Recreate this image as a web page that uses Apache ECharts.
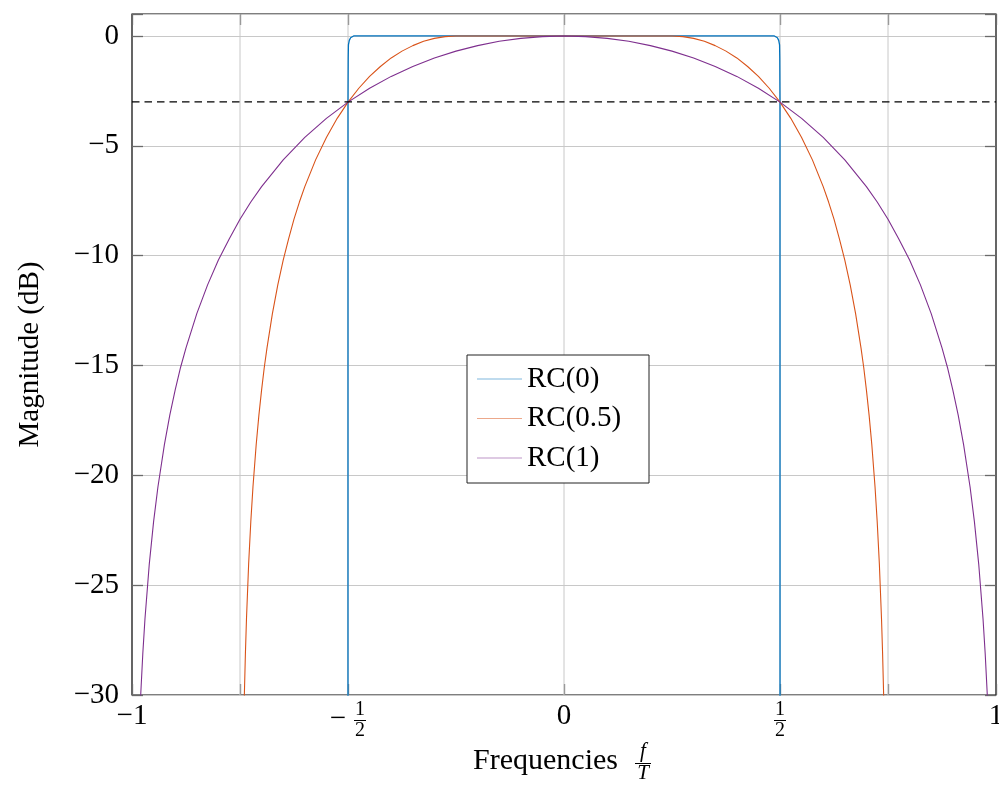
<!DOCTYPE html>
<html>
<head>
<meta charset="utf-8">
<script src="https://cdn.jsdelivr.net/npm/echarts@6/dist/echarts.min.js"></script>
<style>
html,body{margin:0;padding:0;background:#fff;}
#c{width:999px;height:806px;}
</style>
</head>
<body>
<div id="c"></div>
<script>
// ---- data ----
var seriesNames = ['RC(0)', 'RC(0.5)', 'RC(1)'];

var rc0Freq = [-0.5005, -0.5, -0.4995, -0.499, -0.497, -0.494, -0.49, -0.487, 0.487, 0.49, 0.494, 0.497, 0.499, 0.4995, 0.5, 0.5005];
var rc0Mag  = [-200, -3.0, -1.0, -0.4, -0.2, -0.08, -0.02, 0, 0, -0.02, -0.08, -0.2, -0.4, -1.0, -3.0, -200];

var rc05Freq = [-0.745,-0.7425,-0.74,-0.7375,-0.735,-0.73,-0.725,-0.72,-0.7125,-0.70625,-0.7,-0.69375,-0.6875,-0.675,-0.6625,-0.65,-0.6375,-0.625,-0.6125,-0.6,-0.575,-0.55,-0.525,-0.5,-0.475,-0.45,-0.425,-0.4,-0.375,-0.35,-0.325,-0.3,-0.275,-0.25,
                0.25,0.275,0.3,0.325,0.35,0.375,0.4,0.425,0.45,0.475,0.5,0.525,0.55,0.575,0.6,0.6125,0.625,0.6375,0.65,0.6625,0.675,0.6875,0.69375,0.7,0.70625,0.7125,0.72,0.725,0.73,0.735,0.7375,0.74,0.7425,0.745];
var rc05Mag  = [-36.08,-32.56,-30.06,-28.12,-26.54,-24.04,-22.11,-20.53,-18.60,-17.26,-16.11,-15.08,-14.20,-12.64,-11.33,-10.20,-9.24,-8.34,-7.56,-6.86,-5.64,-4.62,-3.75,-3.01,-2.38,-1.84,-1.39,-1.00,-0.69,-0.44,-0.24,-0.11,-0.03,0,
                0,-0.03,-0.11,-0.24,-0.44,-0.69,-1.00,-1.39,-1.84,-2.38,-3.01,-3.75,-4.62,-5.64,-6.86,-7.56,-8.34,-9.24,-10.20,-11.33,-12.64,-14.20,-15.08,-16.11,-17.26,-18.60,-20.53,-22.11,-24.04,-26.54,-28.12,-30.06,-32.56,-36.08];

var rc1Freq = [-0.99,-0.985,-0.98,-0.975,-0.97,-0.96,-0.95,-0.94,-0.925,-0.9125,-0.9,-0.8875,-0.875,-0.85,-0.825,-0.8,-0.775,-0.75,-0.725,-0.7,-0.65,-0.6,-0.55,-0.5,-0.45,-0.4,-0.35,-0.3,-0.25,-0.2,-0.15,-0.1,-0.05,0,
               0.05,0.1,0.15,0.2,0.25,0.3,0.35,0.4,0.45,0.5,0.55,0.6,0.65,0.7,0.725,0.75,0.775,0.8,0.825,0.85,0.875,0.8875,0.9,0.9125,0.925,0.94,0.95,0.96,0.97,0.975,0.98,0.985,0.99];
var rc1Mag  = [-36.08,-32.56,-30.06,-28.12,-26.54,-24.04,-22.11,-20.53,-18.60,-17.26,-16.11,-15.08,-14.20,-12.64,-11.33,-10.20,-9.24,-8.34,-7.56,-6.86,-5.64,-4.62,-3.75,-3.01,-2.38,-1.84,-1.39,-1.00,-0.69,-0.44,-0.24,-0.11,-0.03,0,
               -0.03,-0.11,-0.24,-0.44,-0.69,-1.00,-1.39,-1.84,-2.38,-3.01,-3.75,-4.62,-5.64,-6.86,-7.56,-8.34,-9.24,-10.20,-11.33,-12.64,-14.20,-15.08,-16.11,-17.26,-18.60,-20.53,-22.11,-24.04,-26.54,-28.12,-30.06,-32.56,-36.08];

var cutoffLevel = -3;            // dashed reference line (dB)
var cutoffFreq = [-1, 1];
var xGridValues = [-0.75, -0.5, 0, 0.5, 0.75];
var xTickValues = [-1, -0.75, -0.5, 0, 0.5, 0.75, 1];
var xLabelValues = [-1, 0, 1];
var xFracLabels = [{v: -0.5, neg: true}, {v: 0.5, neg: false}];
var yMin = -30, yMax = 1, yStep = 5;

// ---- helpers ----
function zip(xs, ys) { var o = []; for (var i = 0; i < xs.length; i++) o.push([xs[i], ys[i]]); return o; }
var FONT = 'Liberation Serif';
var MINUS = '\u2212';
function fmtNum(v) { return v < 0 ? MINUS + (-v) : String(v); }

var colors = ['#0072BD', '#D95319', '#7E2F8E'];
var chart = echarts.init(document.getElementById('c'), null, {renderer: 'canvas'});

var tickStyle = {show: true, inside: true, length: 11, lineStyle: {color: '#6a6a6a', width: 1.3}};
var noLine = {show: false, onZero: false};

var gridSeries = xGridValues.map(function (v) {
  return {type: 'line', name: '_g' + v, data: [[v, yMin], [v, yMax]], showSymbol: false, symbol: 'none', silent: true,
          lineStyle: {color: '#c8c8c8', width: 1}, z: 1};
});

var option = {
  animation: false,
  backgroundColor: '#fff',
  grid: {left: 132, right: 3, top: 14, bottom: 111, show: true, borderColor: '#000', borderWidth: 1.2,
         backgroundColor: 'transparent', containLabel: false, outerBoundsMode: 'none'},
  legend: {
    data: seriesNames,
    orient: 'vertical',
    left: 467, top: 355,
    padding: [9, 14, 10, 10],
    itemWidth: 45, itemHeight: 14, itemGap: 9.5,
    backgroundColor: '#fff',
    borderColor: '#222', borderWidth: 1, borderRadius: 0,
    textStyle: {fontFamily: FONT, fontSize: 29, color: '#000', lineHeight: 30, width: 108},
    icon: 'path://M0,10 L100,10 L100,11.3 L0,11.3 Z',
    itemStyle: {borderWidth: 0}
  },
  xAxis: [{
    type: 'value', min: -1, max: 1, interval: 0.25, position: 'bottom',
    axisLine: noLine,
    axisTick: Object.assign({customValues: xTickValues}, tickStyle),
    splitLine: {show: false},
    axisLabel: {
      customValues: xLabelValues, margin: 7,
      fontFamily: FONT, fontSize: 29, color: '#000',
      formatter: function (v) { return (v === -1 || v === 0 || v === 1) ? fmtNum(v) : ''; }
    }
  }, {
    type: 'value', min: -1, max: 1, interval: 0.25, position: 'top',
    axisLine: noLine,
    axisTick: Object.assign({customValues: xTickValues}, tickStyle),
    splitLine: {show: false},
    axisLabel: {show: false}
  }],
  yAxis: [{
    type: 'value', min: yMin, max: yMax, interval: yStep, position: 'left',
    name: 'Magnitude (dB)', nameLocation: 'middle', nameGap: 87,
    nameTextStyle: {fontFamily: FONT, fontSize: 29, color: '#000'},
    axisLine: noLine,
    axisTick: tickStyle,
    splitLine: {show: true, lineStyle: {color: '#c8c8c8', width: 1}},
    axisLabel: {
      margin: 13, fontFamily: FONT, fontSize: 29, color: '#000',
      formatter: function (v) { return (v % 5 === 0) ? fmtNum(v) : ''; }
    }
  }, {
    type: 'value', min: yMin, max: yMax, interval: yStep, position: 'right',
    axisLine: noLine,
    axisTick: tickStyle,
    splitLine: {show: false},
    axisLabel: {show: false}
  }],
  series: gridSeries.concat([
    {type: 'line', name: seriesNames[0], data: zip(rc0Freq, rc0Mag), showSymbol: false, symbol: 'none', clip: true,
     lineStyle: {color: colors[0], width: 1.3}, itemStyle: {color: colors[0]}, z: 3},
    {type: 'line', name: seriesNames[1], data: zip(rc05Freq, rc05Mag), showSymbol: false, symbol: 'none', clip: true,
     lineStyle: {color: colors[1], width: 1.1}, itemStyle: {color: colors[1]}, z: 3},
    {type: 'line', name: seriesNames[2], data: zip(rc1Freq, rc1Mag), showSymbol: false, symbol: 'none', clip: true,
     lineStyle: {color: colors[2], width: 1.1}, itemStyle: {color: colors[2]}, z: 3},
    {type: 'line', name: '_cutoff', data: zip(cutoffFreq, [cutoffLevel, cutoffLevel]), showSymbol: false, symbol: 'none', silent: true,
     lineStyle: {color: '#000', width: 1.4, type: [7.5, 5]}, z: 4}
  ])
};
chart.setOption(option);

// fraction tick labels and the x-axis title (real text, placed from axis coordinates)
var g = [];
xFracLabels.forEach(function (f) {
  var p = chart.convertToPixel({xAxisIndex: 0, yAxisIndex: 0}, [f.v, yMin]);
  var cx = p[0] + (f.neg ? 12 : 0);
  if (f.neg) {
    g.push({type: 'text', x: p[0] - 10, y: p[1] + 24, style: {text: MINUS, font: '29px "Liberation Serif"', fill: '#000', align: 'center', verticalAlign: 'middle'}});
  }
  g.push({type: 'text', x: cx, y: p[1] + 15, style: {text: '1', font: '20px "Liberation Serif"', fill: '#000', align: 'center', verticalAlign: 'middle'}});
  g.push({type: 'line', shape: {x1: cx - 6, y1: p[1] + 25.5, x2: cx + 6, y2: p[1] + 25.5}, style: {stroke: '#000', lineWidth: 1}});
  g.push({type: 'text', x: cx, y: p[1] + 36, style: {text: '2', font: '20px "Liberation Serif"', fill: '#000', align: 'center', verticalAlign: 'middle'}});
});
var c0 = chart.convertToPixel({xAxisIndex: 0, yAxisIndex: 0}, [0, yMin]);
g.push({type: 'text', x: c0[0] + 54, y: c0[1] + 66, style: {text: 'Frequencies', font: '30px "Liberation Serif"', fill: '#000', align: 'right', verticalAlign: 'middle'}});
g.push({type: 'text', x: c0[0] + 79, y: c0[1] + 56, style: {text: 'f', font: 'italic 21px "Liberation Serif"', fill: '#000', align: 'center', verticalAlign: 'middle'}});
g.push({type: 'line', shape: {x1: c0[0] + 71, y1: c0[1] + 68.5, x2: c0[0] + 87, y2: c0[1] + 68.5}, style: {stroke: '#000', lineWidth: 1}});
g.push({type: 'text', x: c0[0] + 79, y: c0[1] + 78, style: {text: 'T', font: 'italic 21px "Liberation Serif"', fill: '#000', align: 'center', verticalAlign: 'middle'}});
chart.setOption({graphic: g});
</script>
</body>
</html>
